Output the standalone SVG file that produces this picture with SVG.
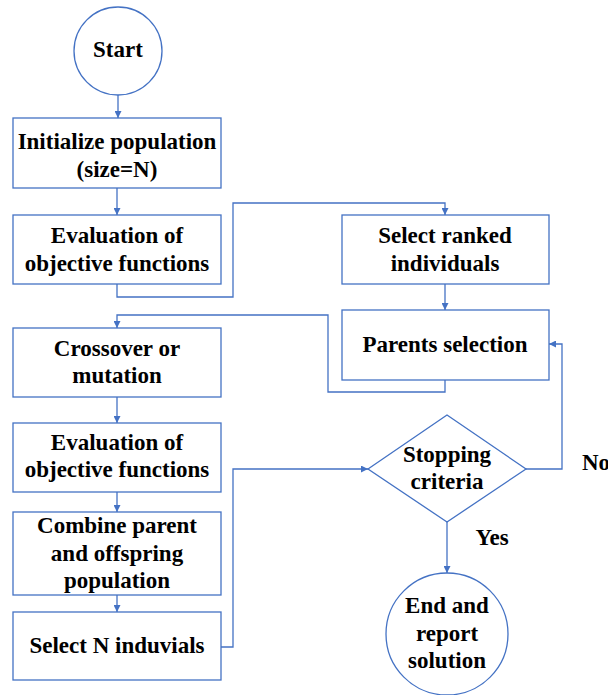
<svg xmlns="http://www.w3.org/2000/svg" width="608" height="695" viewBox="0 0 608 695">
<style>
.n{fill:#fff;stroke:#4472C4;stroke-width:1.3}
.c{fill:none;stroke:#4472C4;stroke-width:1.3}
</style>
<defs>
<marker id="a" viewBox="0 0 10 10" refX="10" refY="5" markerWidth="7" markerHeight="7" markerUnits="userSpaceOnUse" orient="auto">
<path d="M0,0 L10,5 L0,10 z" fill="#4472C4"/>
</marker>
</defs>
<rect width="608" height="695" fill="#fff"/>
<g id="connectors">
<path class="c" d="M118,95 V118" marker-end="url(#a)"/>
<path class="c" d="M117,188 V215" marker-end="url(#a)"/>
<path class="c" d="M117,284 V297 H233 V203 H445 V215" marker-end="url(#a)"/>
<path class="c" d="M445,284 V310" marker-end="url(#a)"/>
<path class="c" d="M445,380 V392 H328 V315 H117 V328" marker-end="url(#a)"/>
<path class="c" d="M117,397 V423" marker-end="url(#a)"/>
<path class="c" d="M117,492 V512" marker-end="url(#a)"/>
<path class="c" d="M117,595 V612" marker-end="url(#a)"/>
<path class="c" d="M221,647 H233 V469 H368" marker-end="url(#a)"/>
<path class="c" d="M526,469 H562 V344 H549" marker-end="url(#a)"/>
<path class="c" d="M447,522 V573" marker-end="url(#a)"/>
</g>
<g font-family="Liberation Serif, serif" font-weight="bold" font-size="23" fill="#000" text-anchor="middle">
<g id="start">
<circle class="n" cx="118" cy="51" r="44"/>
<text x="118" y="57">Start</text>
</g>
<g id="init">
<rect class="n" x="13" y="118" width="208" height="70"/>
<text x="117" y="149">Initialize population</text>
<text x="117" y="177">(size=N)</text>
</g>
<g id="eval1">
<rect class="n" x="13" y="215" width="208" height="69"/>
<text x="117" y="243">Evaluation of</text>
<text x="117" y="271">objective functions</text>
</g>
<g id="ranked">
<rect class="n" x="342" y="215" width="207" height="69"/>
<text x="445" y="243">Select ranked</text>
<text x="445" y="271">individuals</text>
</g>
<g id="parents">
<rect class="n" x="342" y="310" width="207" height="70"/>
<text x="445" y="352">Parents selection</text>
</g>
<g id="crossover">
<rect class="n" x="13" y="328" width="208" height="69"/>
<text x="117" y="356">Crossover or</text>
<text x="117" y="383">mutation</text>
</g>
<g id="eval2">
<rect class="n" x="13" y="423" width="208" height="69"/>
<text x="117" y="450">Evaluation of</text>
<text x="117" y="477">objective functions</text>
</g>
<g id="combine">
<rect class="n" x="13" y="512" width="208" height="83"/>
<text x="117" y="533">Combine parent</text>
<text x="117" y="561">and offspring</text>
<text x="117" y="588">population</text>
</g>
<g id="selectN">
<rect class="n" x="13" y="612" width="208" height="68"/>
<text x="117" y="653">Select N induvials</text>
</g>
<g id="stop">
<path class="n" d="M368,469 L447,415 L526,469 L447,522 z"/>
<text x="447" y="462">Stopping</text>
<text x="447" y="489">criteria</text>
</g>
<g id="end">
<circle class="n" cx="447" cy="634" r="61"/>
<text x="447" y="613">End and</text>
<text x="447" y="641">report</text>
<text x="447" y="668">solution</text>
</g>
<g id="labels">
<text x="492" y="545">Yes</text>
<text x="582" y="470" text-anchor="start">No</text>
</g>
</g>
</svg>
